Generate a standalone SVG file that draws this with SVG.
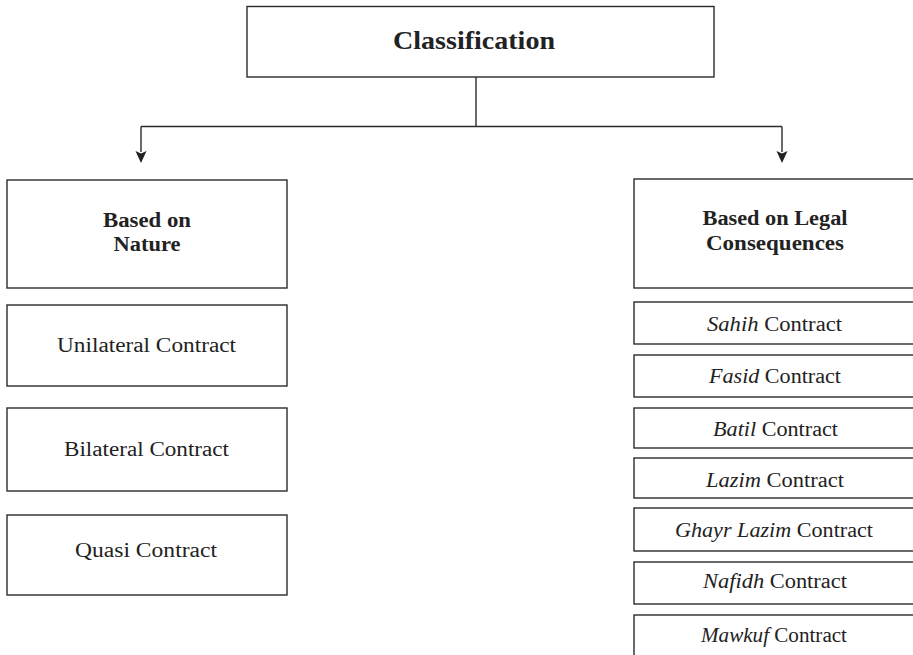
<svg xmlns="http://www.w3.org/2000/svg" width="913" height="655" viewBox="0 0 913 655">
<defs>
<style>
.box{fill:#fff;stroke:#2b2b2b;stroke-width:1.4}
.con{fill:none;stroke:#2b2b2b;stroke-width:1.4}
text{font-family:"Liberation Serif","Times New Roman",serif;fill:#222;text-anchor:middle}
.t{font-size:20px}
.h{font-size:20px;font-weight:bold}
.title{font-size:26px;font-weight:bold}
.i{font-style:italic}
</style>
<marker id="arr" viewBox="0 0 12 12" refX="1" refY="6" markerWidth="12" markerHeight="12" markerUnits="userSpaceOnUse" orient="auto">
<path d="M0,0.5 L12,6 L0,11.5 L2.5,6 z" fill="#222"/>
</marker>
</defs>
<rect width="913" height="655" fill="#fff"/>
<g id="connectors">
<path class="con" d="M476,77 V126.5"/>
<path class="con" d="M141,126.5 H782"/>
<path class="con" d="M141,126.5 V152" marker-end="url(#arr)"/>
<path class="con" d="M782,126.5 V152" marker-end="url(#arr)"/>
</g>
<g id="classification">
<rect class="box" x="247" y="6.5" width="467" height="70.5"/>
<text class="title" x="474" y="49" textLength="162" lengthAdjust="spacingAndGlyphs">Classification</text>
</g>
<g id="nature">
<rect class="box" x="7" y="180" width="280" height="108"/>
<text class="h" x="147" y="227" textLength="88" lengthAdjust="spacingAndGlyphs">Based on</text>
<text class="h" x="147" y="251" textLength="67" lengthAdjust="spacingAndGlyphs">Nature</text>
</g>
<g id="unilateral">
<rect class="box" x="7" y="305" width="280" height="81"/>
<text class="t" x="146.5" y="352" textLength="179" lengthAdjust="spacingAndGlyphs">Unilateral Contract</text>
</g>
<g id="bilateral">
<rect class="box" x="7" y="408" width="280" height="83"/>
<text class="t" x="146.5" y="456" textLength="165" lengthAdjust="spacingAndGlyphs">Bilateral Contract</text>
</g>
<g id="quasi">
<rect class="box" x="7" y="515" width="280" height="80"/>
<text class="t" x="146" y="557" textLength="142" lengthAdjust="spacingAndGlyphs">Quasi Contract</text>
</g>
<g id="legal">
<rect class="box" x="634" y="179" width="300" height="109"/>
<text class="h" x="775" y="225" textLength="145" lengthAdjust="spacingAndGlyphs">Based on Legal</text>
<text class="h" x="775" y="250" textLength="138" lengthAdjust="spacingAndGlyphs">Consequences</text>
</g>
<g id="sahih">
<rect class="box" x="634" y="302" width="300" height="42"/>
<text class="t" x="774.5" y="331" textLength="135" lengthAdjust="spacingAndGlyphs"><tspan class="i">Sahih</tspan> Contract</text>
</g>
<g id="fasid">
<rect class="box" x="634" y="355" width="300" height="42"/>
<text class="t" x="775" y="383" textLength="132" lengthAdjust="spacingAndGlyphs"><tspan class="i">Fasid</tspan> Contract</text>
</g>
<g id="batil">
<rect class="box" x="634" y="408" width="300" height="40"/>
<text class="t" x="775.5" y="436" textLength="125" lengthAdjust="spacingAndGlyphs"><tspan class="i">Batil</tspan> Contract</text>
</g>
<g id="lazim">
<rect class="box" x="634" y="458" width="300" height="40"/>
<text class="t" x="775" y="487" textLength="138" lengthAdjust="spacingAndGlyphs"><tspan class="i">Lazim</tspan> Contract</text>
</g>
<g id="ghayr-lazim">
<rect class="box" x="634" y="508" width="300" height="43"/>
<text class="t" x="774" y="537" textLength="198" lengthAdjust="spacingAndGlyphs"><tspan class="i">Ghayr Lazim</tspan> Contract</text>
</g>
<g id="nafidh">
<rect class="box" x="634" y="562" width="300" height="42"/>
<text class="t" x="775" y="588" textLength="144" lengthAdjust="spacingAndGlyphs"><tspan class="i">Nafidh</tspan> Contract</text>
</g>
<g id="mawkuf">
<rect class="box" x="634" y="615" width="300" height="60"/>
<text class="t" x="774" y="642" textLength="146" lengthAdjust="spacingAndGlyphs"><tspan class="i">Mawkuf</tspan> Contract</text>
</g>
</svg>
